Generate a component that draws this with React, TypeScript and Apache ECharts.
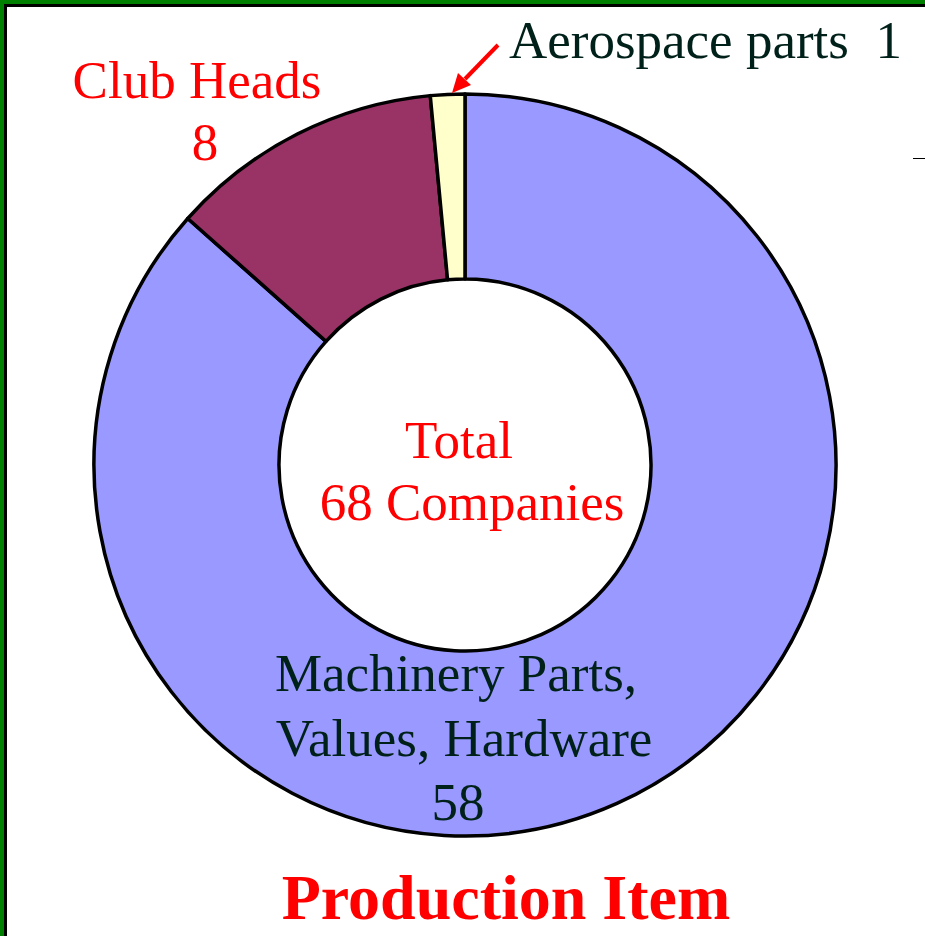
import React, { useEffect, useRef } from "react";
import * as echarts from "echarts";

const categories = ["Machinery Parts, Values, Hardware", "Club Heads", "Aerospace parts"];
const values = [58, 8, 1];
const colors = ["#9999FF", "#993366", "#FFFFCC"];
const totalLabel = ["Total", "68 Companies"];
const machineryLines = ["Machinery Parts,", "Values, Hardware"];
const titleText = "Production Item";

export default function App() {
  const ref = useRef<HTMLDivElement>(null);
  useEffect(() => {
    if (!ref.current) return;
    const chart = echarts.init(ref.current, null, { renderer: "svg" });
    const font = "'Liberation Serif', 'Times New Roman', serif";
    const red = "#FF0000";
    const dark = "#00201A";
    const txt = (text: string, x: number, y: number, fill: string, align = "center", size = 53, weight = "normal") => ({
      type: "text",
      x,
      y,
      z: 100,
      silent: true,
      style: {
        text,
        fill,
        font: `${weight} ${size}px ${font}`,
        align,
        verticalAlign: "middle",
      },
    });
    chart.setOption({
      animation: false,
      backgroundColor: "#ffffff",
      series: [
        {
          type: "pie",
          center: [465, 465],
          radius: [186, 371],
          startAngle: 90,
          clockwise: true,
          silent: true,
          label: { show: false },
          labelLine: { show: false },
          emphasis: { disabled: true },
          itemStyle: { borderColor: "#000000", borderWidth: 3.5 },
          data: categories.map((name, i) => ({
            name,
            value: values[i],
            itemStyle: { color: colors[i] },
          })),
        },
      ],
      graphic: [
        { type: "rect", z: 100, shape: { x: 0, y: 0, width: 925, height: 4 }, style: { fill: "#008000" }, silent: true },
        { type: "rect", z: 100, shape: { x: 0, y: 0, width: 4, height: 936 }, style: { fill: "#008000" }, silent: true },
        { type: "rect", z: 100, shape: { x: 4, y: 4, width: 921, height: 3 }, style: { fill: "#000000" }, silent: true },
        { type: "rect", z: 100, shape: { x: 4, y: 4, width: 3, height: 932 }, style: { fill: "#000000" }, silent: true },
        { type: "line", z: 100, shape: { x1: 913, y1: 158.5, x2: 925, y2: 158.5 }, style: { stroke: "#000000", lineWidth: 1 }, silent: true },
        txt(categories[1], 197, 80, red),
        txt(String(values[1]), 205, 142, red),
        txt(`${categories[2]}  ${values[2]}`, 509, 40, dark, "left"),
        { type: "line", z: 100, shape: { x1: 498, y1: 45, x2: 465, y2: 79 }, style: { stroke: red, lineWidth: 4 }, silent: true },
        { type: "polygon", z: 100, shape: { points: [[452, 93], [471, 85], [458, 73]] }, style: { fill: red }, silent: true },
        txt(totalLabel[0], 459, 440, red),
        txt(totalLabel[1], 472, 502, red),
        txt(machineryLines[0], 456, 673, dark),
        txt(machineryLines[1], 464, 738, dark),
        txt(String(values[0]), 458, 802, dark),
        txt(titleText, 506, 897, red, "center", 64, "bold"),
      ],
    });
    return () => chart.dispose();
  }, []);
  return (
    <div
      ref={ref}
      style={{ position: "absolute", left: 0, top: 0, width: 925, height: 936 }}
    />
  );
}
